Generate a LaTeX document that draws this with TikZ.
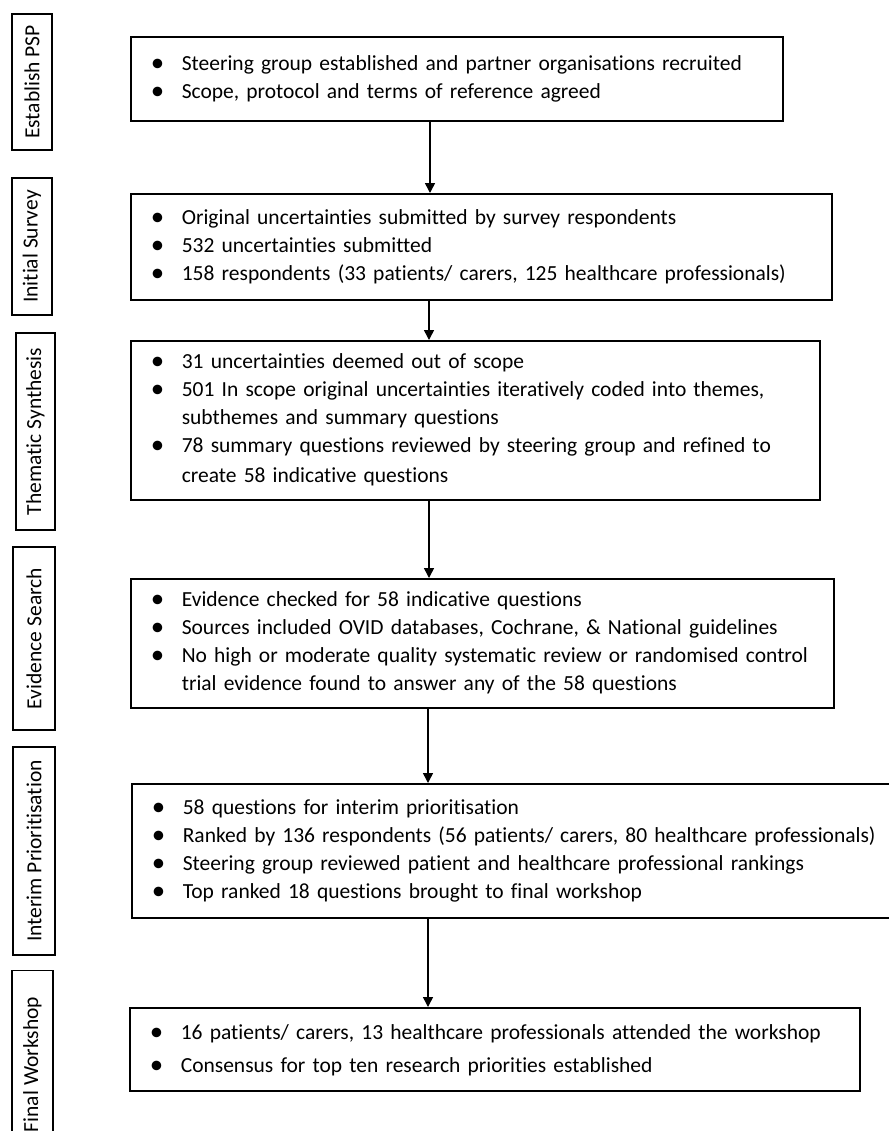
\documentclass[tikz,border=0pt]{standalone}
\usepackage{fontspec}
\setmainfont{Carlito}[Ligatures=NoCommon]
\usetikzlibrary{arrows.meta}
\newcommand{\blt}{\raisebox{-0.4pt}{\scalebox{1.25}{\textbullet}}}
\newcommand{\steps}[1]{\noindent\begin{tabular}{@{}p{15.5pt}@{}l@{}}#1\end{tabular}}

\begin{document}
\begin{tikzpicture}[
  x=0.5pt, y=-0.5pt,
  stage/.style={draw, line width=0.8pt, rotate=90, inner sep=0pt, font=\fontsize{10.75}{13}\selectfont},
  panel/.style={draw, line width=0.8pt, anchor=north west, inner xsep=10pt, inner ysep=0pt, font=\fontsize{10.75}{14}\selectfont},
  arr/.style={line width=0.75pt, -{Triangle[length=5pt, width=5pt]}},
]
  \useasboundingbox (0,0) rectangle (889,1131);
  \clip (0,0) rectangle (889,1131);

  \node[stage, minimum width=68pt, minimum height=20pt] (lpsp) at (32,82) {Establish PSP};
  \node[stage, minimum width=68.5pt, minimum height=20pt] (lsurvey) at (32,246.5) {Initial Survey};
  \node[stage, minimum width=98.5pt, minimum height=19.5pt] (lthematic) at (35.5,431.5) {Thematic Synthesis};
  \node[stage, minimum width=91.5pt, minimum height=21pt] (levidence) at (34,638.5) {Evidence Search};
  \node[stage, minimum width=104pt, minimum height=21pt] (linterim) at (34,851) {Interim Prioritisation};
  \node[stage, minimum width=94pt, minimum height=20.5pt] (lworkshop) at (32.5,1064.5) {Final Workshop};

  \node[panel, minimum width=326pt, text width=306pt, minimum height=42pt] (psp) at (130,36)
    {\steps{\blt & Steering group established and partner organisations recruited \\
            \blt & Scope, protocol and terms of reference agreed}};
  \node[panel, minimum width=350.5pt, text width=330.5pt, minimum height=53pt] (survey) at (130,193)
    {\steps{\blt & Original uncertainties submitted by survey respondents \\
            \blt & 532 uncertainties submitted \\
            \blt & 158 respondents (33 patients/ carers, 125 healthcare professionals)}};
  \node[panel, minimum width=344.5pt, text width=324.5pt, minimum height=79.5pt] (thematic) at (130,340)
    {\steps{\blt & 31 uncertainties deemed out of scope \\
            \blt & 501 In scope original uncertainties iteratively coded into themes, \\
                 & subthemes and summary questions \\
            \blt & 78 summary questions reviewed by steering group and refined to \\[1pt]
                 & create 58 indicative questions}};
  \node[panel, minimum width=351.5pt, text width=331.5pt, minimum height=64.5pt] (evidence) at (130,578)
    {\steps{\blt & Evidence checked for 58 indicative questions \\
            \blt & Sources included OVID databases, Cochrane, \& National guidelines \\
            \blt & No high or moderate quality systematic review or randomised control \\
                 & trial evidence found to answer any of the 58 questions}};
  \node[panel, minimum width=390pt, text width=370pt, minimum height=67pt] (interim) at (131,783)
    {\steps{\blt & 58 questions for interim prioritisation \\
            \blt & Ranked by 136 respondents (56 patients/ carers, 80 healthcare professionals) \\
            \blt & Steering group reviewed patient and healthcare professional rankings \\
            \blt & Top ranked 18 questions brought to final workshop}};
  \node[panel, minimum width=365pt, text width=345pt, minimum height=41.5pt, font=\fontsize{10.75}{16.5}\selectfont] (workshop) at (129,1007)
    {\steps{\blt & 16 patients/ carers, 13 healthcare professionals attended the workshop \\
            \blt & Consensus for top ten research priorities established}};

  \coordinate (a1) at (430,0);
  \coordinate (a2) at (429,0);
  \coordinate (a3) at (429,0);
  \coordinate (a4) at (428,0);
  \coordinate (a5) at (428,0);
  \draw[arr] (psp.south -| a1) -- (survey.north -| a1);
  \draw[arr] (survey.south -| a2) -- (thematic.north -| a2);
  \draw[arr] (thematic.south -| a3) -- (evidence.north -| a3);
  \draw[arr] (evidence.south -| a4) -- (interim.north -| a4);
  \draw[arr] (interim.south -| a5) -- (workshop.north -| a5);
\end{tikzpicture}
\end{document}
